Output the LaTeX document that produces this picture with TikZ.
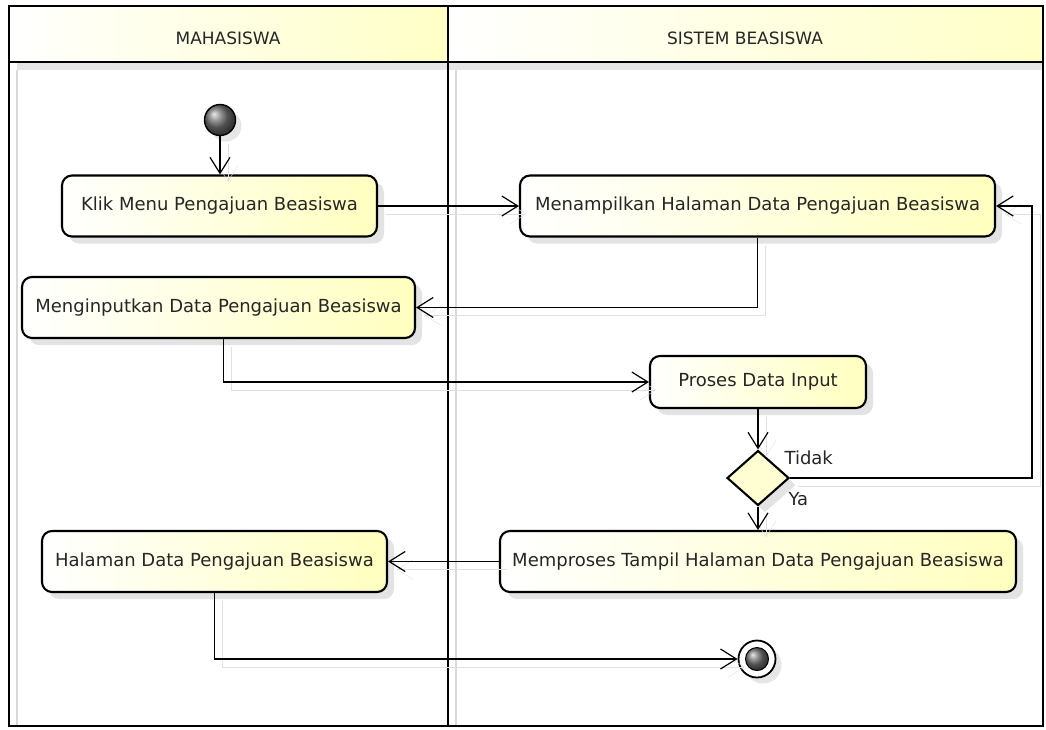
\documentclass[tikz,border=0pt]{standalone}
\usepackage{fontspec}
\setmainfont{DejaVu Sans}
\usetikzlibrary{arrows.meta,shapes.geometric,shadows}

\begin{document}
\begin{tikzpicture}[x=1pt,y=-1pt,
        font=\fontsize{18}{21}\selectfont, text=black!85,
        aksi/.style={draw, line width=2.1pt, rounded corners=10pt, left color=white, right color=yellow!25,
            drop shadow={shadow xshift=7pt, shadow yshift=-7pt, opacity=.22}, minimum height=61pt},
        alur/.style={-{Straight Barb[length=16pt,width=20pt]}, line width=1.2pt,
            preaction={draw=black!12, transform canvas={shift={(8pt,-8pt)}}}},
        kepala/.style={left color=white, right color=yellow!22}]
        \useasboundingbox (0,0) rectangle (1046,729);
        \fill[kepala] (9,6) rectangle (448,62);
        \fill[kepala] (448,6) rectangle (1043,62);
        \fill[black!10] (17,63) rectangle (1043,70);
        \draw[black!15, line width=2pt] (17,70) -- (17,726) (456,70) -- (456,726);
        \draw[line width=2.8pt] (9,6) rectangle (1043,726) (448,6) -- (448,726) (9,62) -- (1043,62);
        \node[font=\fontsize{17}{20}\selectfont] (mhs) at (228,38) {MAHASISWA};
        \node[font=\fontsize{17}{20}\selectfont] (sistem) at (745,38) {SISTEM BEASISWA};

        \node[circle, draw, line width=1.4pt, minimum size=31pt, ball color=black!55,
            drop shadow={shadow xshift=6pt, shadow yshift=-6pt, opacity=.2}] (mulai) at (220,120) {};
        \node[aksi, minimum width=315pt] (klik) at (219.5,206) {Klik Menu Pengajuan Beasiswa};
        \node[aksi, minimum width=475pt] (tampil) at (757.5,206) {Menampilkan Halaman Data Pengajuan Beasiswa};
        \node[aksi, minimum width=393pt] (input) at (218.5,307.5) {Menginputkan Data Pengajuan Beasiswa};
        \node[aksi, minimum width=216pt, minimum height=52pt] (proses) at (758,382) {Proses Data Input};
        \node[diamond, draw, line width=2.1pt, fill=yellow!18, minimum width=62pt, minimum height=55pt, inner sep=0pt,
            drop shadow={shadow xshift=7pt, shadow yshift=-7pt, opacity=.22}] (cek) at (758,478) {};
        \node[aksi, minimum width=516pt] (memproses) at (758,561.5) {Memproses Tampil Halaman Data Pengajuan Beasiswa};
        \node[aksi, minimum width=345pt] (halaman) at (214.5,561.5) {Halaman Data Pengajuan Beasiswa};
        \node[circle, draw, line width=1.8pt, fill=white, minimum size=37pt,
            drop shadow={shadow xshift=6pt, shadow yshift=-6pt, opacity=.2}] (akhir) at (757,659) {};
        \node[circle, draw, line width=1pt, minimum size=23pt, ball color=black!55] (akhirdalam) at (akhir) {};
        \coordinate (belok) at (1032,478);

        \draw[alur] (mulai) -- (klik.north -| mulai);
        \draw[alur] (klik) -- (tampil);
        \draw[alur] (tampil.south) |- (input.east);
        \draw[alur] ([xshift=5pt]input.south) |- (proses.west);
        \draw[alur] (proses) -- (cek);
        \draw[alur] (cek.east) -- (belok) |- (tampil.east);
        \draw[alur] (cek) -- (memproses);
        \draw[alur] (memproses) -- (halaman);
        \draw[alur] (halaman.south) |- (akhir);
        \node[anchor=west] (tidak) at (781,458) {Tidak};
        \node[anchor=west] (ya) at (785,499) {Ya};
    \end{tikzpicture}
\end{document}
